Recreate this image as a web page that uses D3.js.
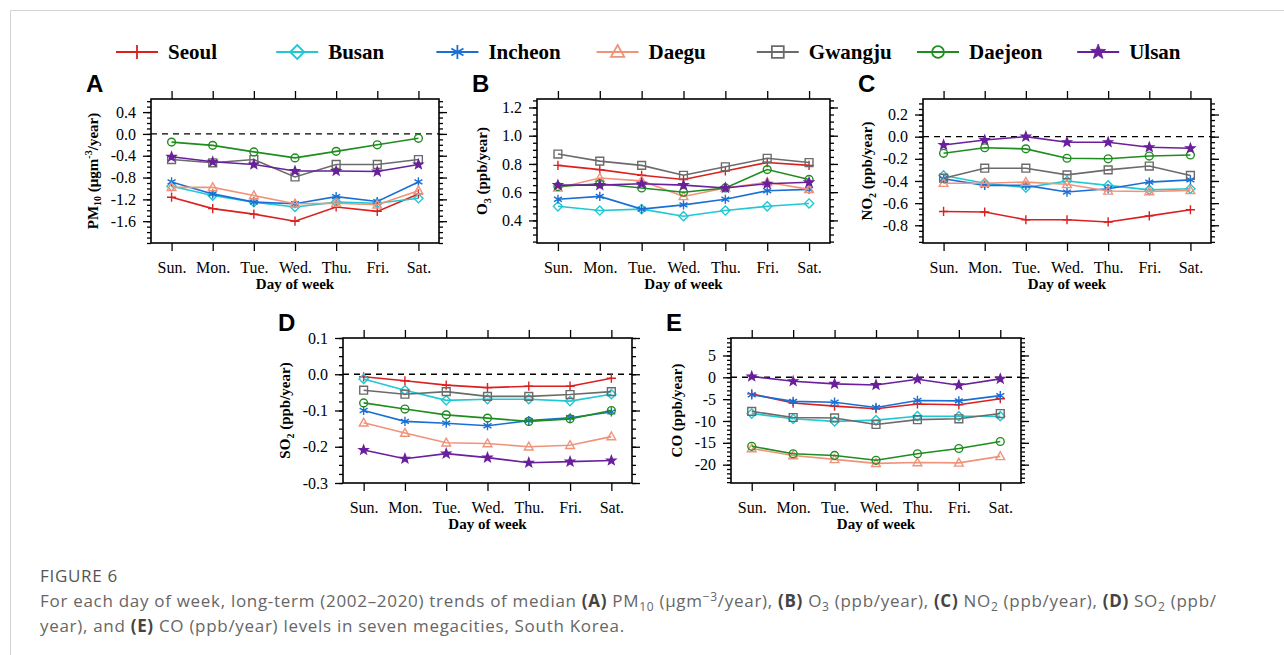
<!DOCTYPE html>
<html>
<head>
<meta charset="utf-8">
<script src="https://cdn.jsdelivr.net/npm/d3@7"></script>
<style>
  body { margin: 0; background: #fff; }
  .tick text { font-family: "Liberation Serif", "Times New Roman", serif; font-size: 16px; fill: #000; }
</style>
</head>
<body>
<svg id="chart" width="1284" height="655"></svg>
<script>
// categories
var days = ['Sun.', 'Mon.', 'Tue.', 'Wed.', 'Thu.', 'Fri.', 'Sat.'];
var cities = ['Seoul', 'Busan', 'Incheon', 'Daegu', 'Gwangju', 'Daejeon', 'Ulsan'];

// trends per city (rows follow cities order)
var pm10 = [
  [-1.16, -1.37, -1.47, -1.60, -1.34, -1.42, -1.10],
  [-0.96, -1.13, -1.25, -1.34, -1.25, -1.27, -1.18],
  [-0.88, -1.10, -1.25, -1.28, -1.15, -1.24, -0.88],
  [-0.98, -0.98, -1.13, -1.28, -1.27, -1.30, -1.04],
  [-0.47, -0.53, -0.47, -0.79, -0.56, -0.56, -0.47],
  [-0.15, -0.21, -0.33, -0.44, -0.32, -0.20, -0.08],
  [-0.42, -0.51, -0.56, -0.68, -0.68, -0.69, -0.56]
];
var o3 = [
  [0.79, 0.76, 0.72, 0.69, 0.75, 0.81, 0.79],
  [0.50, 0.47, 0.48, 0.43, 0.47, 0.50, 0.52],
  [0.55, 0.57, 0.48, 0.51, 0.55, 0.61, 0.62],
  [0.63, 0.70, 0.68, 0.57, 0.63, 0.67, 0.62],
  [0.87, 0.82, 0.79, 0.72, 0.78, 0.84, 0.81],
  [0.64, 0.66, 0.63, 0.60, 0.63, 0.76, 0.69],
  [0.65, 0.65, 0.66, 0.65, 0.63, 0.66, 0.67]
];
var no2 = [
  [-0.675, -0.68, -0.75, -0.75, -0.77, -0.715, -0.66],
  [-0.35, -0.42, -0.46, -0.40, -0.44, -0.48, -0.47],
  [-0.38, -0.44, -0.44, -0.50, -0.47, -0.41, -0.39],
  [-0.42, -0.42, -0.41, -0.43, -0.49, -0.495, -0.485],
  [-0.375, -0.285, -0.285, -0.345, -0.30, -0.265, -0.35],
  [-0.15, -0.10, -0.11, -0.195, -0.20, -0.175, -0.165],
  [-0.075, -0.03, 0.00, -0.05, -0.05, -0.095, -0.105]
];
var so2 = [
  [-0.007, -0.018, -0.030, -0.037, -0.033, -0.033, -0.011],
  [-0.013, -0.044, -0.072, -0.069, -0.069, -0.074, -0.055],
  [-0.100, -0.130, -0.135, -0.142, -0.128, -0.120, -0.104],
  [-0.134, -0.162, -0.189, -0.191, -0.200, -0.196, -0.172],
  [-0.044, -0.055, -0.048, -0.061, -0.061, -0.056, -0.048],
  [-0.079, -0.096, -0.112, -0.121, -0.130, -0.123, -0.100],
  [-0.209, -0.233, -0.219, -0.230, -0.244, -0.241, -0.238]
];
var co = [
  [-3.8, -5.9, -6.6, -7.2, -6.1, -6.3, -4.9],
  [-8.3, -9.5, -10.1, -9.8, -8.9, -8.9, -8.9],
  [-4.0, -5.5, -5.7, -6.9, -5.3, -5.4, -4.2],
  [-16.3, -17.9, -18.8, -19.7, -19.5, -19.6, -18.1],
  [-7.8, -9.2, -9.3, -10.8, -9.7, -9.5, -8.3],
  [-15.8, -17.5, -17.9, -19.0, -17.5, -16.3, -14.7],
  [0.2, -0.9, -1.5, -1.75, -0.45, -1.8, -0.35]
];

// tick labels
var pm10Ticks = [-1.6, -1.2, -0.8, -0.4, 0.0, 0.4];
var o3Ticks = [0.4, 0.6, 0.8, 1.0, 1.2];
var no2Ticks = [-0.8, -0.6, -0.4, -0.2, 0.0, 0.2];
var so2Ticks = [-0.3, -0.2, -0.1, 0.0, 0.1];
var coTicks = [-20, -15, -10, -5, 0, 5];

// styles
var cityColors = ['#dc1f1f', '#1fc8d2', '#1a6fd6', '#f0937a', '#6b6b6b', '#1f8c1f', '#6a1f9c'];
var cityMarkers = ['plus', 'diamond', 'asterisk', 'triangle', 'square', 'circle', 'star'];

var serif = '"Liberation Serif", "Times New Roman", serif';
var svg = d3.select('#chart');

// light frame round the figure
svg.append('path')
  .attr('d', 'M10.5,655V10.5H1284')
  .attr('fill', 'none')
  .attr('stroke', '#d4d4d4')
  .attr('stroke-width', 1);

function markerPath(kind, r) {
  if (kind === 'plus') return 'M' + (-r) + ',0H' + r + 'M0,' + (-r) + 'V' + r;
  if (kind === 'diamond') return 'M0,' + (-r) + 'L' + r + ',0L0,' + r + 'L' + (-r) + ',0Z';
  if (kind === 'asterisk') {
    var p = '';
    for (var k = 0; k < 3; k++) {
      var a = Math.PI / 2 + k * Math.PI / 3;
      var dx = r * Math.cos(a), dy = r * Math.sin(a);
      p += 'M' + (-dx) + ',' + (-dy) + 'L' + dx + ',' + dy;
    }
    return p;
  }
  if (kind === 'triangle') return 'M0,' + (-r) + 'L' + (r * 0.95) + ',' + (r * 0.7) + 'L' + (-r * 0.95) + ',' + (r * 0.7) + 'Z';
  if (kind === 'square') {
    var s = r * 0.85;
    return 'M' + (-s) + ',' + (-s) + 'H' + s + 'V' + s + 'H' + (-s) + 'Z';
  }
  if (kind === 'circle') {
    var c = r * 0.85;
    return 'M' + c + ',0A' + c + ',' + c + ' 0 1,1 ' + (-c) + ',0A' + c + ',' + c + ' 0 1,1 ' + c + ',0Z';
  }
  // filled star
  var pts = [];
  for (var i = 0; i < 10; i++) {
    var rr = i % 2 === 0 ? r : r * 0.42;
    var ang = -Math.PI / 2 + i * Math.PI / 5;
    pts.push([rr * Math.cos(ang), rr * Math.sin(ang)]);
  }
  return 'M' + pts.join('L') + 'Z';
}

function drawMarker(g, kind, color, x, y) {
  g.append('path')
    .attr('transform', 'translate(' + x + ',' + y + ')')
    .attr('d', markerPath(kind, 4.6))
    .attr('fill', kind === 'star' ? color : 'none')
    .attr('stroke', color)
    .attr('stroke-width', 1.4);
}

// panels: layout of each box
var panels = [
  { label: 'A', data: pm10, ticks: pm10Ticks, minor: 0.1, domain: [-2.0, 0.64], x: 151, y: 99, w: 288, h: 144,
    fmt: function(d) { return d.toFixed(1); }, title: ['PM', '10', ' (\u03bcgm', '-3', '/year)'], titleX: 98, zero: true },
  { label: 'B', data: o3, ticks: o3Ticks, minor: 0.05, domain: [0.24, 1.26], x: 537, y: 99, w: 293, h: 144,
    fmt: function(d) { return d.toFixed(1); }, title: ['O', '3', ' (ppb/year)'], titleX: 487, zero: false },
  { label: 'C', data: no2, ticks: no2Ticks, minor: 0.05, domain: [-0.96, 0.34], x: 923, y: 99, w: 288, h: 144,
    fmt: function(d) { return d.toFixed(1); }, title: ['NO', '2', ' (ppb/year)'], titleX: 872, zero: true },
  { label: 'D', data: so2, ticks: so2Ticks, minor: 0.025, domain: [-0.3, 0.1], x: 343, y: 338, w: 289, h: 145,
    fmt: function(d) { return d.toFixed(1); }, title: ['SO', '2', ' (ppb/year)'], titleX: 290, zero: true },
  { label: 'E', data: co, ticks: coTicks, minor: 1, domain: [-24.2, 9], x: 731, y: 338, w: 290, h: 145,
    fmt: function(d) { return String(d); }, title: ['CO (ppb/year)'], titleX: 682, zero: true }
];

panels.forEach(function(p) {
  var g = svg.append('g').attr('transform', 'translate(' + p.x + ',' + p.y + ')');
  var x = d3.scaleLinear().domain([-0.5, 6.5]).range([0, p.w]);
  var y = d3.scaleLinear().domain(p.domain).range([p.h, 0]);

  var minors = [];
  var start = Math.ceil(p.domain[0] / p.minor - 1e-6);
  for (var v = start; v * p.minor <= p.domain[1] + 1e-9; v++) minors.push(+(v * p.minor).toFixed(4));

  // left axis
  g.append('g').call(d3.axisLeft(y).tickValues(p.ticks).tickSize(8).tickPadding(7).tickFormat(p.fmt));
  g.append('g').call(d3.axisLeft(y).tickValues(minors).tickSize(4).tickFormat(''));
  // right axis
  g.append('g').attr('transform', 'translate(' + p.w + ',0)')
    .call(d3.axisRight(y).tickValues(p.ticks).tickSize(8).tickFormat(''));
  g.append('g').attr('transform', 'translate(' + p.w + ',0)')
    .call(d3.axisRight(y).tickValues(minors).tickSize(4).tickFormat(''));
  // top and bottom axes
  g.append('g').call(d3.axisTop(x).tickValues(d3.range(days.length)).tickSize(8).tickFormat(''));
  g.append('g').attr('transform', 'translate(0,' + p.h + ')')
    .call(d3.axisBottom(x).tickValues(d3.range(days.length)).tickSize(8).tickPadding(11)
      .tickFormat(function(i) { return days[i]; }));

  g.selectAll('.domain').remove();
  g.selectAll('.tick line').attr('stroke', '#000').attr('stroke-width', 1.3);

  // box
  g.append('rect').attr('width', p.w).attr('height', p.h)
    .attr('fill', 'none').attr('stroke', '#000').attr('stroke-width', 1.6);

  if (p.zero) {
    g.append('line').attr('x1', 0).attr('x2', p.w).attr('y1', y(0)).attr('y2', y(0))
      .attr('stroke', '#000').attr('stroke-width', 1.4).attr('stroke-dasharray', '6,5');
  }

  var line = d3.line().x(function(d, i) { return x(i); }).y(function(d) { return y(d); });
  p.data.forEach(function(series, c) {
    g.append('path').datum(series).attr('d', line)
      .attr('fill', 'none').attr('stroke', cityColors[c]).attr('stroke-width', 1.6);
    series.forEach(function(d, i) { drawMarker(g, cityMarkers[c], cityColors[c], x(i), y(d)); });
  });

  // x axis title
  g.append('text').attr('x', p.w / 2).attr('y', p.h + 46)
    .attr('text-anchor', 'middle')
    .style('font-family', serif).style('font-weight', 'bold').style('font-size', '15px')
    .text('Day of week');

  // y axis title
  var t = svg.append('text')
    .attr('transform', 'translate(' + p.titleX + ',' + (p.y + p.h / 2) + ') rotate(-90)')
    .attr('text-anchor', 'middle')
    .style('font-family', serif).style('font-weight', 'bold').style('font-size', '15px');
  p.title.forEach(function(part, k) {
    if (k === 1) t.append('tspan').attr('dy', p.label === 'A' ? 3 : 4).style('font-size', '10px').text(part);
    else if (k === 2 && p.label !== 'A') t.append('tspan').attr('dy', -4).text(part);
    else if (k === 2) t.append('tspan').attr('dy', -3).text(part);
    else if (k === 3) t.append('tspan').attr('dy', -6).style('font-size', '10px').text(part);
    else if (k === 4) t.append('tspan').attr('dy', 6).text(part);
    else t.append('tspan').text(part);
  });

  // panel letter
  svg.append('text').attr('x', p.x - 65).attr('y', p.y - 7)
    .style('font-family', '"Liberation Sans", Arial, sans-serif').style('font-weight', 'bold').style('font-size', '24px')
    .text(p.label);
});

// legend
var legend = svg.append('g');
cities.forEach(function(name, c) {
  var tx = 168 + c * 160.2;
  var lg = legend.append('g');
  lg.append('line').attr('x1', tx - 52).attr('x2', tx - 10).attr('y1', 52).attr('y2', 52)
    .attr('stroke', cityColors[c]).attr('stroke-width', 2.2);
  lg.append('path').attr('transform', 'translate(' + (tx - 31) + ',52)')
    .attr('d', markerPath(cityMarkers[c], cityMarkers[c] === 'star' ? 8 : 7))
    .attr('fill', cityMarkers[c] === 'star' ? cityColors[c] : 'none')
    .attr('stroke', cityColors[c]).attr('stroke-width', cityMarkers[c] === 'star' ? 0.8 : 1.8);
  lg.append('text').attr('x', tx).attr('y', 59)
    .style('font-family', serif).style('font-weight', 'bold').style('font-size', '21px')
    .text(name);
});

// caption
var capFont = '"Open Sans", "Noto Sans", sans-serif';
svg.append('text').attr('x', 40).attr('y', 582)
  .style('font-family', capFont).style('font-size', '17px').style('fill', '#555')
  .style('letter-spacing', '0.7px')
  .text('FIGURE 6');

var cap1 = svg.append('text').attr('x', 40).attr('y', 607)
  .style('font-family', capFont).style('font-size', '17px').style('fill', '#666')
  .style('letter-spacing', '0.7px');
var cap2 = svg.append('text').attr('x', 40).attr('y', 632)
  .style('font-family', capFont).style('font-size', '17px').style('fill', '#666')
  .style('letter-spacing', '0.7px');

function addParts(t, parts) {
  parts.forEach(function(pt) {
    var s = t.append('tspan').text(pt[0]);
    if (pt[1] === 'b') s.style('font-weight', 'bold').style('fill', '#444');
    if (pt[1] === 'sub') s.attr('dy', 4).style('font-size', '12px');
    if (pt[1] === 'sup') s.attr('dy', -6).style('font-size', '12px');
    if (pt[2]) s.attr('dy', pt[2]);
  });
}
addParts(cap1, [
  ['For each day of week, long-term (2002\u20132020) trends of median '], ['(A)', 'b'], [' PM'],
  ['10', 'sub'], [' (\u03bcgm', '', -4], ['\u22123', 'sup'], ['/year), ', '', 6], ['(B)', 'b'], [' O'],
  ['3', 'sub'], [' (ppb/year), ', '', -4], ['(C)', 'b'], [' NO'], ['2', 'sub'], [' (ppb/year), ', '', -4],
  ['(D)', 'b'], [' SO'], ['2', 'sub'], [' (ppb/', '', -4]
]);
addParts(cap2, [
  ['year), and '], ['(E)', 'b'], [' CO (ppb/year) levels in seven megacities, South Korea.']
]);
</script>
</body>
</html>
